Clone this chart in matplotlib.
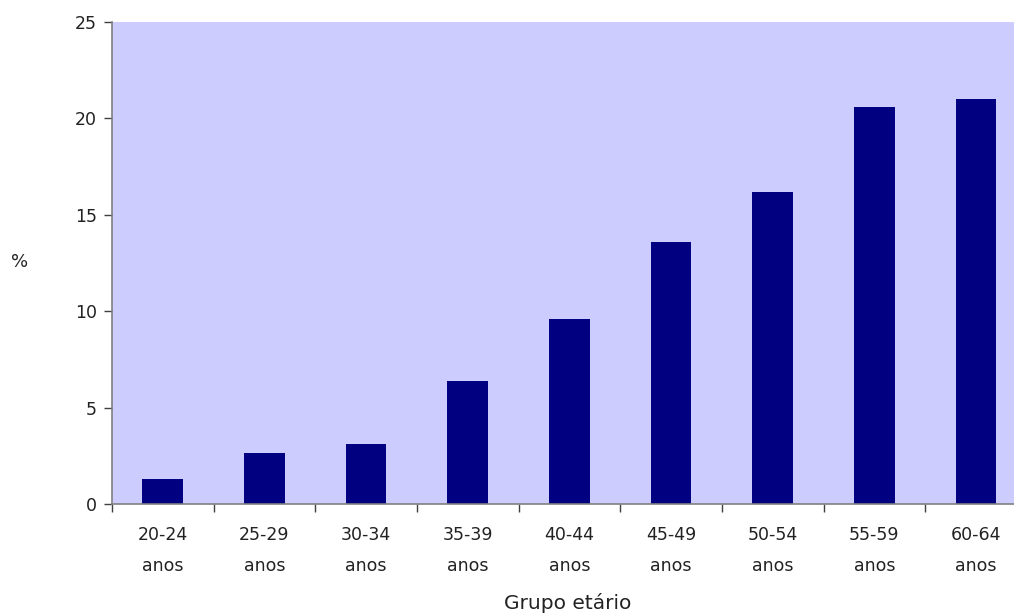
import matplotlib
matplotlib.use("Agg")
import matplotlib.pyplot as plt
import numpy as np

categories = ["20-24\nanos", "25-29\nanos", "30-34\nanos", "35-39\nanos", "40-44\nanos",
              "45-49\nanos", "50-54\nanos", "55-59\nanos", "60-64\nanos"]
values = [1.3, 2.65, 3.1, 6.4, 9.6, 13.6, 16.2, 20.6, 21.0]
y_ticks = [0, 5, 10, 15, 20, 25]

plt.rcParams['font.family'] = ['DejaVu Sans']

W, H = 1014, 616
fig = plt.figure(figsize=(W / 100, H / 100), dpi=100)
ax = fig.add_axes([112 / W, (H - 504) / H, (1026.8 - 112) / W, 482 / H])
ax.set_facecolor("#CCCCFF")

x = np.arange(len(categories))
ax.bar(x, values, width=0.40, color="#000080", zorder=2)

ax.set_xlim(-0.5, len(categories) - 0.5)
ax.set_ylim(0, 25)
ax.set_yticks(y_ticks)
ax.set_yticklabels([str(t) for t in y_ticks], fontsize=12.5, color="#222222")

ax.set_xticks(np.arange(len(categories) + 1) - 0.5, minor=False)
ax.set_xticklabels([])
ax.set_xticks(x, minor=True)
ax.set_xticklabels(categories, minor=True, fontsize=12.5, color="#222222", linespacing=1.9)
ax.tick_params(axis="x", which="minor", length=0, pad=16)
ax.tick_params(axis="x", which="major", length=6, width=1, color="#404040")
ax.tick_params(axis="y", length=6, width=1, color="#404040", pad=5)

for side in ("top", "right"):
    ax.spines[side].set_visible(False)
for side in ("left", "bottom"):
    ax.spines[side].set_color("#808080")
    ax.spines[side].set_linewidth(1.2)

fig.text(20 / W, 1 - 262 / H, "%", fontsize=13, color="#222222", ha="center", va="center")
fig.text(568 / W, 1 - 603 / H, "Grupo etário", fontsize=14.5, color="#222222", ha="center", va="center")

fig.savefig("out.png", dpi=100)
